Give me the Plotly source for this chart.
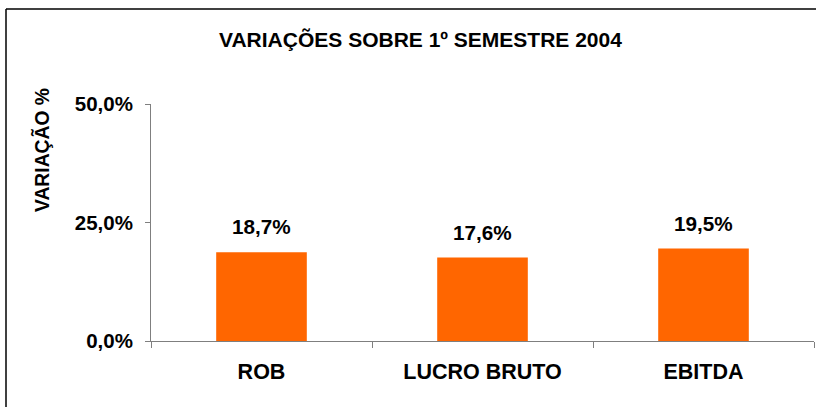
import plotly.graph_objects as go

categories = ["ROB", "LUCRO BRUTO", "EBITDA"]
values = [18.7, 17.6, 19.5]
tick_vals = [0, 25, 50]
tick_text = ["0,0%", "25,0%", "50,0%"]
title_text = "VARIAÇÕES SOBRE 1º SEMESTRE 2004"
y_title = "VARIAÇÃO %"

FONT = "Liberation Sans, Arial, sans-serif"
W, H = 816, 407
L, R, T, B = 151, 2, 104, 66
pw, ph = W - L - R, H - T - B

fig = go.Figure()
fig.add_trace(go.Bar(x=categories, y=values, marker=dict(color="#FF6600", line=dict(width=0)),
                     hoverinfo="skip"))

annotations = []
for c, v in zip(categories, values):
    annotations.append(dict(x=c, y=v, xref="x", yref="y", text=f"<b>{v:.1f}%</b>".replace(".", ","),
                            showarrow=False, yanchor="bottom", yshift=12,
                            font=dict(family=FONT, size=20.7, color="black")))

annotations.append(dict(x=(42 - L) / pw, y=(T + ph - 150) / ph, xref="paper", yref="paper",
                        text=f"<b>{y_title}</b>", textangle=-90, showarrow=False,
                        xanchor="center", yanchor="middle",
                        font=dict(family=FONT, size=19.3, color="black")))
annotations.append(dict(x=(420 - L) / pw, y=(T + ph - 40) / ph, xref="paper", yref="paper",
                        text=f"<b>{title_text}</b>", showarrow=False,
                        xanchor="center", yanchor="middle",
                        font=dict(family=FONT, size=21, color="black")))

shapes = [
    dict(type="line", xref="paper", yref="paper", x0=(6 - L) / pw, x1=(W + 5 - L) / pw,
         y0=(T + ph - 9) / ph, y1=(T + ph - 9) / ph, line=dict(color="black", width=1.5)),
    dict(type="line", xref="paper", yref="paper", x0=(6 - L) / pw, x1=(6 - L) / pw,
         y0=(T + ph - 9) / ph, y1=(T + ph - H - 5) / ph, line=dict(color="black", width=1.5)),
]

fig.update_layout(
    width=W, height=H,
    margin=dict(l=L, r=R, t=T, b=B, pad=0),
    paper_bgcolor="white", plot_bgcolor="white",
    bargap=0.59, showlegend=False,
    annotations=annotations, shapes=shapes,
    font=dict(family=FONT, color="black"),
)
fig.update_xaxes(
    type="category", showline=True, linecolor="#7f7f7f", linewidth=1,
    ticks="outside", tickson="boundaries", ticklen=6, tickcolor="#7f7f7f",
    tickfont=dict(family=FONT, size=21.5, color="black"),
    tickvals=categories, ticktext=[f"<b>{c}</b>" for c in categories],
    ticklabelstandoff=11, showgrid=False, zeroline=False,
)
fig.update_yaxes(
    range=[0, 50], tickvals=tick_vals, ticktext=[f"<b>{t}</b>" for t in tick_text],
    showline=True, linecolor="#7f7f7f", linewidth=1,
    ticks="outside", ticklen=5, tickcolor="#7f7f7f",
    tickfont=dict(family=FONT, size=20.5, color="black"),
    ticklabelstandoff=8, showgrid=False, zeroline=False,
)

fig.write_html("out.html", config={"displayModeBar": False, "staticPlot": True},
               post_script="document.body.style.margin='0';document.body.style.overflow='hidden';")
